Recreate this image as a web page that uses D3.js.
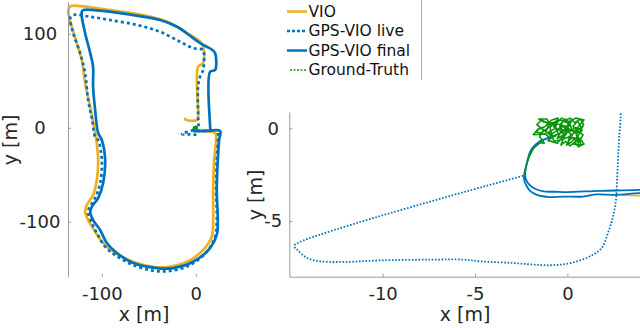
<!DOCTYPE html>
<html>
<head>
<meta charset="utf-8">
<script src="https://cdn.jsdelivr.net/npm/d3@7"></script>
<style>
body { margin: 0; background: #fff; }
svg { display: block; font-family: "DejaVu Sans", sans-serif; }
</style>
</head>
<body>
<svg id="chart" width="640" height="328"></svg>
<script>
const width = 640;
const height = 328;
const colors = {
    vio: '#EDB120',
    live: '#0072BD',
    final: '#0072BD',
    truth: '#0a960a'
};
const seriesNames = ['VIO', 'GPS-VIO live', 'GPS-VIO final', 'Ground-Truth'];

// trajectories in metres, [x, y]
const vio = [
    [-11.4, 9.3], [-10.2, 8.2], [1.1, 8.2], [2.4, 11.7], [2.4, 64.9], [7.8, 68.8], [7.8, 86.2],
    [4.6, 91.5], [-9.3, 100.7], [-30.5, 112.8], [-56.1, 119.9], [-91.2, 125.2], [-123.1, 129.5],
    [-133.5, 129.3], [-135.5, 126], [-135.5, 121.7], [-131.9, 107.4], [-126.6, 90.1], [-121.3, 72],
    [-117.8, 47.6], [-112.4, 22.3], [-107.1, -5.6], [-105.5, -16], [-103.9, -34.4], [-105.3, -55.6],
    [-109.3, -71.6], [-116, -82.2], [-117.8, -89.4], [-114.6, -98.2], [-107.1, -110.6], [-98.6, -122.7],
    [-88, -131.9], [-66.7, -142.6], [-45.4, -147.9], [-30.5, -148.2], [-9.3, -142.6], [7.8, -130.1],
    [17, -116], [18.4, -101.4], [18.4, -66.3], [19.5, -34.4], [21.6, -13.1], [21, -6], [10, -3.7],
    [3.93, -3.63], [3.0, -3.6]
];
const gpsLive = [
    [-2.4, -2.56], [-14.74, -6.27], [-14.77, -6.4], [-14.63, -6.54], [-14.09, -6.99], [-13.37, -7.17],
    [-11.92, -7.2], [-10.12, -7.12], [-7.42, -7.08], [-5.64, -7.08], [-4.72, -7.17], [-2.94, -7.26],
    [-1.48, -7.37], [-0.57, -7.37], [0.31, -7.23], [1.23, -6.9], [1.86, -6.45], [2.2, -5.63],
    [2.47, -4.75], [2.63, -3.85], [2.69, -2.78], [2.74, -1.71], [2.79, -0.63], [2.89, 0.88],
    [2.4, 15.6], [2.4, 43.6], [4.6, 54.3], [7.8, 61.4], [8.8, 75.5], [7.8, 82.7], [-2.9, 84.8],
    [-16.7, 91.5], [-38, 102.1], [-62.4, 109.3], [-91.2, 114.6], [-112.4, 118.1], [-130.5, 119.9],
    [-133.7, 116.4], [-130.5, 100.7], [-123.1, 79.5], [-117.8, 58.2], [-114.6, 29.5], [-110.3, 8.2],
    [-107.1, -9.6], [-103.9, -13.1], [-100, -34.4], [-101.8, -58.8], [-107.1, -74.8], [-113.5, -85.4],
    [-114.6, -90.7], [-110.6, -101.4], [-105.3, -112], [-96.5, -126.6], [-85.9, -135.4], [-66.7, -146.1],
    [-45.4, -152.1], [-27.3, -152.4], [-6.1, -146.1], [11.7, -131.9], [20.5, -116], [22.3, -98.2],
    [21.6, -66.3], [22.3, -34.4], [23.7, -13.1], [23.7, -5.6]
];
const gpsFinal = [
    [-0.6, -0.4], [-1.11, -0.54], [-1.48, -0.72], [-1.85, -1.08], [-2.11, -1.61], [-2.23, -2.03],
    [-2.29, -2.42], [-2.23, -2.78], [-2.05, -3.05], [-1.75, -3.26], [-1.31, -3.4], [-0.66, -3.42],
    [-0.03, -3.44], [1.77, -3.37], [3.93, -3.32], [10, -3.0], [15.2, -2.4], [15.2, 1.1], [15.2, 59.6],
    [20.5, 61.4], [20.5, 79.5], [17.3, 83], [11.7, 86.2], [4.6, 90.1], [-2.9, 95.4], [-19.9, 107.4],
    [-38, 114.6], [-73.1, 120.9], [-108.9, 125.2], [-119.6, 125.2], [-121.3, 123.4], [-121.3, 118.1],
    [-117.8, 100.7], [-112.4, 79.5], [-109.3, 64.9], [-109.3, 43.6], [-107.1, 18.8], [-103.9, -5.6],
    [-100, -13.1], [-96.5, -34.4], [-98.6, -58.8], [-103.9, -74.8], [-110.6, -84], [-112.4, -89.4],
    [-109.3, -98.2], [-101.8, -108.8], [-94.7, -122.7], [-84, -133.3], [-66.7, -143.9], [-41.5, -149.3],
    [-24.1, -149.3], [-2.9, -142.6], [15.2, -128], [22.3, -114.1], [23.4, -98.2], [22.3, -66.3],
    [23.4, -34.4], [24.8, -13.1], [25.9, -3.5], [10, -3.55], [3.93, -3.49], [2.67, -3.59], [1.59, -3.56],
    [0.85, -3.68], [-0.23, -3.68], [-0.94, -3.71], [-1.65, -3.59], [-2.02, -3.37], [-2.19, -3.14],
    [-2.34, -2.78], [-2.34, -2.51], [-2.29, -2.24], [-2.18, -1.81], [-2.02, -1.27], [-1.75, -0.9],
    [-1.37, -0.63], [-0.9, -0.5]
];
const truthTail = [
    [-2.3, -2.6], [-2.27, -2.3], [-2.22, -2.0], [-2.1, -1.6], [-1.85, -1.1], [-1.5, -0.78], [-1.25, -0.8]
];
const truthHover = [
    [-1.5, -0.45], [-1.3, -0.1], [-1.65, 0.2], [-1.4, 0.45], [-1.0, 0.25], [-1.15, -0.2], [-0.8, -0.45],
    [-0.95, 0.05], [-0.6, 0.4], [-0.75, 0.1], [-0.35, -0.15], [-0.55, -0.55], [-0.2, -0.35], [-0.4, 0.2],
    [-0.1, 0.5], [0.1, 0.15], [-0.15, -0.05], [0.2, -0.3], [0.05, -0.65], [0.35, -0.5], [0.6, -0.8],
    [0.45, -0.2], [0.75, 0.05], [0.55, 0.4], [0.3, 0.1], [0.5, -0.1], [0.85, -0.35], [0.7, -0.6],
    [0.9, -0.85], [0.6, -1.0], [0.4, -0.75], [0.15, -0.95], [-0.1, -0.7], [-0.35, -0.9], [-0.2, -0.5],
    [0.0, -0.2], [-0.45, 0.0], [-0.25, 0.35], [0.15, 0.55], [0.4, 0.3], [0.7, 0.5], [0.88, 0.2],
    [0.65, -0.25], [0.25, -0.1], [0.1, 0.35], [-0.3, 0.55], [-0.7, 0.2], [-0.5, -0.3], [-0.9, -0.55],
    [-1.2, -0.3], [-1.85, -0.35], [-1.6, -0.05], [-1.2, 0.1], [-0.85, 0.45], [-0.5, 0.55], [-0.65, 0.0],
    [-1.0, -0.2], [-0.7, -0.7], [-0.3, -0.6], [0.1, -0.45], [0.5, -0.6], [0.8, -0.7], [0.55, -0.45],
    [0.2, -0.75], [-0.05, -0.9], [0.3, -0.3], [0.65, 0.15], [0.9, 0.45], [0.45, 0.55], [0.0, 0.3],
    [-0.4, 0.45], [-0.8, 0.3], [-1.3, 0.35], [-1.55, 0.5], [-1.1, 0.5], [-0.9, 0.15], [-1.4, -0.25],
    [-1.7, -0.2], [-1.45, 0.05], [-0.95, -0.35], [-0.6, -0.15], [-0.25, 0.1], [0.15, -0.15],
    [0.45, 0.05], [0.8, -0.1], [0.6, -0.35], [0.35, -0.85], [0.75, -0.9], [0.5, -0.3], [0.05, 0.0],
    [-0.35, -0.25], [-0.75, -0.4], [-1.05, -0.65], [-0.55, -0.8], [-0.15, -0.3], [0.25, 0.45],
    [-0.05, 0.1], [-0.6, 0.25], [-1.15, 0.25]
];
const groundTruth = truthTail.concat(truthHover);

const leftXTicks = [-100, 0];
const leftYTicks = [-100, 0, 100];
const rightXTicks = [-10, -5, 0];
const rightYTicks = [-5, 0];

const svg = d3.select('#chart');

const panels = [
    {
        id: 'full',
        x: d3.scaleLinear().domain([-136, 30]).range([68, 224]),
        y: d3.scaleLinear().domain([-158.5, 134]).range([276.7, 1.8]),
        xTicks: leftXTicks, yTicks: leftYTicks,
        labelX: -28, showXDomain: false, clip: false,
        lw: 2.7, dash: '3,3', truthLw: 2.7,
        xLabel: [144, 321], yLabel: [17, 140]
    },
    {
        id: 'zoom',
        x: d3.scaleLinear().domain([-15.05, 3.93]).range([289.3, 640]),
        y: d3.scaleLinear().domain([-8, 0.88]).range([276.7, 112]),
        xTicks: rightXTicks, yTicks: rightYTicks,
        labelX: -16, showXDomain: true, clip: true,
        lw: 1.8, dash: '1.6,1.7', truthLw: 1.6,
        xLabel: [465, 321], yLabel: [262, 195]
    }
];

const defs = svg.append('defs');

for (const p of panels) {
    const [x0, x1] = p.x.range();
    const [y0, y1] = p.y.range();
    const g = svg.append('g');

    if (p.clip) {
        defs.append('clipPath').attr('id', 'clip-' + p.id)
            .append('rect')
            .attr('x', x0).attr('y', y1)
            .attr('width', x1 - x0).attr('height', y0 - y1);
    }
    const plot = g.append('g');
    if (p.clip) plot.attr('clip-path', `url(#clip-${p.id})`);

    const line = d3.line()
        .x(d => p.x(d[0]))
        .y(d => p.y(d[1]))
        .curve(d3.curveCatmullRom.alpha(0.5));
    const rough = d3.line()
        .x(d => p.x(d[0]))
        .y(d => p.y(d[1]));

    plot.append('path').datum(vio)
        .attr('d', line)
        .attr('fill', 'none')
        .attr('stroke', colors.vio)
        .attr('stroke-width', p.lw)
        .attr('stroke-linecap', 'round')
        .attr('stroke-linejoin', 'round');

    plot.append('path').datum(gpsLive)
        .attr('d', line)
        .attr('fill', 'none')
        .attr('stroke', colors.live)
        .attr('stroke-width', p.lw)
        .attr('stroke-dasharray', p.dash);

    plot.append('path').datum(gpsFinal)
        .attr('d', line)
        .attr('fill', 'none')
        .attr('stroke', colors.final)
        .attr('stroke-width', p.lw)
        .attr('stroke-linejoin', 'round');

    plot.append('path').datum(groundTruth)
        .attr('d', rough)
        .attr('fill', 'none')
        .attr('stroke', colors.truth)
        .attr('stroke-width', p.truthLw)
        .attr('stroke-linejoin', 'round');

    // axes
    const yAxis = g.append('g')
        .attr('transform', `translate(${x0},0)`)
        .call(d3.axisLeft(p.y).tickValues(p.yTicks).tickSizeInner(-3).tickSizeOuter(0).tickFormat(d => String(d)));
    yAxis.selectAll('text')
        .attr('x', p.labelX)
        .attr('text-anchor', 'middle');

    const xAxis = g.append('g')
        .attr('transform', `translate(0,${y0})`)
        .call(d3.axisBottom(p.x).tickValues(p.xTicks).tickSizeInner(-3).tickSizeOuter(0).tickPadding(10.5).tickFormat(d => String(d)));
    if (!p.showXDomain) xAxis.select('.domain').remove();

    for (const ax of [xAxis, yAxis]) {
        ax.attr('font-family', '"DejaVu Sans", sans-serif').attr('font-size', 18);
        ax.selectAll('.domain, .tick line').attr('stroke', '#9a9a9a');
        ax.selectAll('text').attr('fill', '#262626');
    }

    g.append('text')
        .attr('x', p.xLabel[0]).attr('y', p.xLabel[1])
        .attr('text-anchor', 'middle')
        .attr('font-size', 19)
        .attr('fill', '#262626')
        .text('x [m]');
    g.append('text')
        .attr('transform', `translate(${p.yLabel[0]},${p.yLabel[1]}) rotate(-90)`)
        .attr('text-anchor', 'middle')
        .attr('font-size', 19)
        .attr('fill', '#262626')
        .text('y [m]');
}

// legend
const legendStyles = [
    { color: colors.vio, w: 2.5, dash: null, x0: 287 },
    { color: colors.live, w: 2.5, dash: '3,2', x0: 287 },
    { color: colors.final, w: 2.5, dash: null, x0: 287 },
    { color: colors.truth, w: 1.5, dash: '2,1.5', x0: 290 }
];
const legendY = d3.scalePoint().domain(seriesNames).range([11.5, 70]);
const legend = svg.append('g');
legend.append('line')
    .attr('x1', 421.5).attr('x2', 421.5)
    .attr('y1', 0).attr('y2', 80)
    .attr('stroke', '#a8a8a8');
const item = legend.selectAll('g.item')
    .data(seriesNames)
    .enter().append('g')
    .attr('class', 'item')
    .attr('transform', d => `translate(0,${legendY(d)})`);
item.append('line')
    .attr('x1', (d, i) => legendStyles[i].x0).attr('x2', 307)
    .attr('y1', 0).attr('y2', 0)
    .attr('stroke', (d, i) => legendStyles[i].color)
    .attr('stroke-width', (d, i) => legendStyles[i].w)
    .attr('stroke-dasharray', (d, i) => legendStyles[i].dash);
item.append('text')
    .attr('x', 308.5)
    .attr('dy', '0.35em')
    .attr('font-size', 15.5)
    .attr('fill', '#111')
    .text(d => d);
</script>
</body>
</html>
